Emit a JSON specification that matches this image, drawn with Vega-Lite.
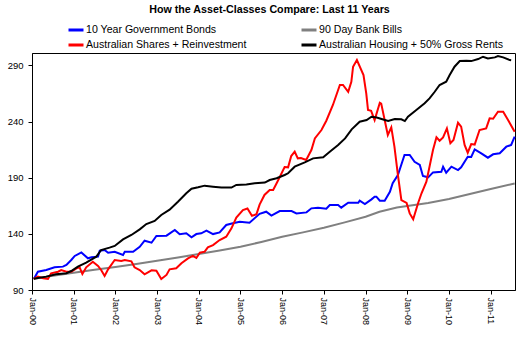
{
  "$schema": "https://vega.github.io/schema/vega-lite/v6.json",
  "width": 483,
  "height": 237,
  "autosize": {"type": "none"},
  "padding": {"left": 32, "top": 53, "right": 8, "bottom": 52},
  "background": "white",
  "title": {
    "text": "How the Asset-Classes Compare: Last 11 Years",
    "fontSize": 10.7,
    "fontWeight": "bold",
    "color": "#000000",
    "anchor": "middle",
    "frame": "group",
    "dx": -4,
    "offset": 5
  },
  "config": {
    "font": "Liberation Sans",
    "view": {"stroke": "#000000", "strokeWidth": 1},
    "axis": {"grid": false, "domainColor": "#000000", "tickColor": "#000000", "labelColor": "#000000", "title": null}
  },
  "data": {
    "values": [
      {"series": "10 Year Government Bonds", "month": 0.5, "value": 100},
      {"series": "10 Year Government Bonds", "month": 0.8, "value": 101.3},
      {"series": "10 Year Government Bonds", "month": 1.7, "value": 106.3},
      {"series": "10 Year Government Bonds", "month": 4.1, "value": 107.8},
      {"series": "10 Year Government Bonds", "month": 6.5, "value": 110.2},
      {"series": "10 Year Government Bonds", "month": 8.9, "value": 110.8},
      {"series": "10 Year Government Bonds", "month": 9.9, "value": 112.3},
      {"series": "10 Year Government Bonds", "month": 11.3, "value": 116.7},
      {"series": "10 Year Government Bonds", "month": 12.3, "value": 120.3},
      {"series": "10 Year Government Bonds", "month": 14.2, "value": 123.4},
      {"series": "10 Year Government Bonds", "month": 16.1, "value": 118.2},
      {"series": "10 Year Government Bonds", "month": 17.1, "value": 119.1},
      {"series": "10 Year Government Bonds", "month": 19.0, "value": 119.7},
      {"series": "10 Year Government Bonds", "month": 19.5, "value": 125.0},
      {"series": "10 Year Government Bonds", "month": 20.9, "value": 125.6},
      {"series": "10 Year Government Bonds", "month": 21.9, "value": 123.2},
      {"series": "10 Year Government Bonds", "month": 23.8, "value": 124.1},
      {"series": "10 Year Government Bonds", "month": 26.2, "value": 121.2},
      {"series": "10 Year Government Bonds", "month": 26.7, "value": 124.1},
      {"series": "10 Year Government Bonds", "month": 29.1, "value": 124.1},
      {"series": "10 Year Government Bonds", "month": 31.0, "value": 128.5},
      {"series": "10 Year Government Bonds", "month": 32.4, "value": 133.9},
      {"series": "10 Year Government Bonds", "month": 34.4, "value": 132.1},
      {"series": "10 Year Government Bonds", "month": 35.8, "value": 138.1},
      {"series": "10 Year Government Bonds", "month": 38.7, "value": 138.4},
      {"series": "10 Year Government Bonds", "month": 41.1, "value": 143.4},
      {"series": "10 Year Government Bonds", "month": 42.5, "value": 139.6},
      {"series": "10 Year Government Bonds", "month": 44.4, "value": 140.5},
      {"series": "10 Year Government Bonds", "month": 45.9, "value": 136.9},
      {"series": "10 Year Government Bonds", "month": 47.3, "value": 139.8},
      {"series": "10 Year Government Bonds", "month": 48.7, "value": 140.5},
      {"series": "10 Year Government Bonds", "month": 50.2, "value": 142.8},
      {"series": "10 Year Government Bonds", "month": 52.1, "value": 139.8},
      {"series": "10 Year Government Bonds", "month": 54.0, "value": 141.3},
      {"series": "10 Year Government Bonds", "month": 55.9, "value": 147.9},
      {"series": "10 Year Government Bonds", "month": 57.8, "value": 149.4},
      {"series": "10 Year Government Bonds", "month": 59.8, "value": 150.8},
      {"series": "10 Year Government Bonds", "month": 62.6, "value": 149.9},
      {"series": "10 Year Government Bonds", "month": 65.5, "value": 157.8},
      {"series": "10 Year Government Bonds", "month": 67.4, "value": 159.7},
      {"series": "10 Year Government Bonds", "month": 68.9, "value": 156.2},
      {"series": "10 Year Government Bonds", "month": 71.3, "value": 160.3},
      {"series": "10 Year Government Bonds", "month": 74.7, "value": 160.3},
      {"series": "10 Year Government Bonds", "month": 76.1, "value": 158.2},
      {"series": "10 Year Government Bonds", "month": 79.0, "value": 159.1},
      {"series": "10 Year Government Bonds", "month": 80.4, "value": 162.7},
      {"series": "10 Year Government Bonds", "month": 82.3, "value": 163.3},
      {"series": "10 Year Government Bonds", "month": 84.7, "value": 162.4},
      {"series": "10 Year Government Bonds", "month": 85.7, "value": 165.7},
      {"series": "10 Year Government Bonds", "month": 88.1, "value": 165.7},
      {"series": "10 Year Government Bonds", "month": 89.0, "value": 163.3},
      {"series": "10 Year Government Bonds", "month": 91.0, "value": 167.7},
      {"series": "10 Year Government Bonds", "month": 93.9, "value": 167.7},
      {"series": "10 Year Government Bonds", "month": 94.3, "value": 169.5},
      {"series": "10 Year Government Bonds", "month": 95.8, "value": 166.5},
      {"series": "10 Year Government Bonds", "month": 97.7, "value": 170.7},
      {"series": "10 Year Government Bonds", "month": 98.6, "value": 173.1},
      {"series": "10 Year Government Bonds", "month": 99.1, "value": 173.1},
      {"series": "10 Year Government Bonds", "month": 100.1, "value": 169.5},
      {"series": "10 Year Government Bonds", "month": 101.5, "value": 169.5},
      {"series": "10 Year Government Bonds", "month": 103.0, "value": 177.5},
      {"series": "10 Year Government Bonds", "month": 103.8, "value": 185.0},
      {"series": "10 Year Government Bonds", "month": 105.3, "value": 192.4},
      {"series": "10 Year Government Bonds", "month": 107.2, "value": 210.2},
      {"series": "10 Year Government Bonds", "month": 108.7, "value": 210.2},
      {"series": "10 Year Government Bonds", "month": 110.1, "value": 204.2},
      {"series": "10 Year Government Bonds", "month": 111.6, "value": 201.3},
      {"series": "10 Year Government Bonds", "month": 112.5, "value": 191.5},
      {"series": "10 Year Government Bonds", "month": 114.0, "value": 190.3},
      {"series": "10 Year Government Bonds", "month": 115.4, "value": 194.7},
      {"series": "10 Year Government Bonds", "month": 117.8, "value": 195.3},
      {"series": "10 Year Government Bonds", "month": 118.3, "value": 199.8},
      {"series": "10 Year Government Bonds", "month": 119.2, "value": 194.4},
      {"series": "10 Year Government Bonds", "month": 120.7, "value": 199.8},
      {"series": "10 Year Government Bonds", "month": 122.6, "value": 196.8},
      {"series": "10 Year Government Bonds", "month": 123.5, "value": 199.2},
      {"series": "10 Year Government Bonds", "month": 125.4, "value": 208.7},
      {"series": "10 Year Government Bonds", "month": 126.4, "value": 208.5},
      {"series": "10 Year Government Bonds", "month": 127.4, "value": 215.2},
      {"series": "10 Year Government Bonds", "month": 129.3, "value": 211.7},
      {"series": "10 Year Government Bonds", "month": 131.2, "value": 207.8},
      {"series": "10 Year Government Bonds", "month": 132.7, "value": 210.8},
      {"series": "10 Year Government Bonds", "month": 134.6, "value": 211.7},
      {"series": "10 Year Government Bonds", "month": 136.5, "value": 217.6},
      {"series": "10 Year Government Bonds", "month": 137.9, "value": 219.1},
      {"series": "10 Year Government Bonds", "month": 138.9, "value": 226.5},

      {"series": "90 Day Bank Bills", "month": 0.5, "value": 100},
      {"series": "90 Day Bank Bills", "month": 6, "value": 102.6},
      {"series": "90 Day Bank Bills", "month": 12, "value": 105.4},
      {"series": "90 Day Bank Bills", "month": 18, "value": 108.0},
      {"series": "90 Day Bank Bills", "month": 24, "value": 110.5},
      {"series": "90 Day Bank Bills", "month": 30, "value": 113.2},
      {"series": "90 Day Bank Bills", "month": 36, "value": 116.0},
      {"series": "90 Day Bank Bills", "month": 42, "value": 119.0},
      {"series": "90 Day Bank Bills", "month": 48, "value": 122.0},
      {"series": "90 Day Bank Bills", "month": 54, "value": 125.2},
      {"series": "90 Day Bank Bills", "month": 60, "value": 128.5},
      {"series": "90 Day Bank Bills", "month": 66, "value": 132.8},
      {"series": "90 Day Bank Bills", "month": 72, "value": 137.4},
      {"series": "90 Day Bank Bills", "month": 78, "value": 141.3},
      {"series": "90 Day Bank Bills", "month": 84, "value": 145.5},
      {"series": "90 Day Bank Bills", "month": 90, "value": 150.2},
      {"series": "90 Day Bank Bills", "month": 96, "value": 155.2},
      {"series": "90 Day Bank Bills", "month": 100, "value": 159.7},
      {"series": "90 Day Bank Bills", "month": 105, "value": 163.4},
      {"series": "90 Day Bank Bills", "month": 108, "value": 164.8},
      {"series": "90 Day Bank Bills", "month": 114, "value": 167.5},
      {"series": "90 Day Bank Bills", "month": 120, "value": 171.0},
      {"series": "90 Day Bank Bills", "month": 126, "value": 175.5},
      {"series": "90 Day Bank Bills", "month": 132, "value": 180.0},
      {"series": "90 Day Bank Bills", "month": 138.9, "value": 184.8},

      {"series": "Australian Shares + Reinvestment", "month": 0.5, "value": 100},
      {"series": "Australian Shares + Reinvestment", "month": 1.7, "value": 101.9},
      {"series": "Australian Shares + Reinvestment", "month": 3.2, "value": 100.4},
      {"series": "Australian Shares + Reinvestment", "month": 4.6, "value": 99.8},
      {"series": "Australian Shares + Reinvestment", "month": 5.5, "value": 104.9},
      {"series": "Australian Shares + Reinvestment", "month": 7.5, "value": 106.3},
      {"series": "Australian Shares + Reinvestment", "month": 8.4, "value": 107.8},
      {"series": "Australian Shares + Reinvestment", "month": 9.9, "value": 106.3},
      {"series": "Australian Shares + Reinvestment", "month": 11.3, "value": 106.3},
      {"series": "Australian Shares + Reinvestment", "month": 12.8, "value": 109.3},
      {"series": "Australian Shares + Reinvestment", "month": 13.7, "value": 110.2},
      {"series": "Australian Shares + Reinvestment", "month": 14.5, "value": 104.2},
      {"series": "Australian Shares + Reinvestment", "month": 15.6, "value": 110.2},
      {"series": "Australian Shares + Reinvestment", "month": 17.5, "value": 115.2},
      {"series": "Australian Shares + Reinvestment", "month": 19.0, "value": 111.4},
      {"series": "Australian Shares + Reinvestment", "month": 19.9, "value": 107.8},
      {"series": "Australian Shares + Reinvestment", "month": 20.9, "value": 102.5},
      {"series": "Australian Shares + Reinvestment", "month": 21.9, "value": 108.4},
      {"series": "Australian Shares + Reinvestment", "month": 23.8, "value": 116.7},
      {"series": "Australian Shares + Reinvestment", "month": 25.7, "value": 115.8},
      {"series": "Australian Shares + Reinvestment", "month": 26.7, "value": 116.7},
      {"series": "Australian Shares + Reinvestment", "month": 28.6, "value": 115.5},
      {"series": "Australian Shares + Reinvestment", "month": 29.5, "value": 110.2},
      {"series": "Australian Shares + Reinvestment", "month": 31.0, "value": 107.8},
      {"series": "Australian Shares + Reinvestment", "month": 32.4, "value": 104.0},
      {"series": "Australian Shares + Reinvestment", "month": 34.4, "value": 107.5},
      {"series": "Australian Shares + Reinvestment", "month": 35.8, "value": 107.2},
      {"series": "Australian Shares + Reinvestment", "month": 37.2, "value": 99.8},
      {"series": "Australian Shares + Reinvestment", "month": 38.7, "value": 103.4},
      {"series": "Australian Shares + Reinvestment", "month": 39.6, "value": 108.4},
      {"series": "Australian Shares + Reinvestment", "month": 41.5, "value": 109.3},
      {"series": "Australian Shares + Reinvestment", "month": 43.0, "value": 113.8},
      {"series": "Australian Shares + Reinvestment", "month": 44.9, "value": 118.2},
      {"series": "Australian Shares + Reinvestment", "month": 46.3, "value": 120.3},
      {"series": "Australian Shares + Reinvestment", "month": 47.3, "value": 118.5},
      {"series": "Australian Shares + Reinvestment", "month": 48.3, "value": 123.2},
      {"series": "Australian Shares + Reinvestment", "month": 49.7, "value": 124.1},
      {"series": "Australian Shares + Reinvestment", "month": 50.6, "value": 128.0},
      {"series": "Australian Shares + Reinvestment", "month": 52.1, "value": 130.0},
      {"series": "Australian Shares + Reinvestment", "month": 54.0, "value": 134.5},
      {"series": "Australian Shares + Reinvestment", "month": 55.9, "value": 137.4},
      {"series": "Australian Shares + Reinvestment", "month": 57.4, "value": 144.9},
      {"series": "Australian Shares + Reinvestment", "month": 58.8, "value": 154.5},
      {"series": "Australian Shares + Reinvestment", "month": 60.7, "value": 161.2},
      {"series": "Australian Shares + Reinvestment", "month": 62.0, "value": 162.5},
      {"series": "Australian Shares + Reinvestment", "month": 63.3, "value": 156.0},
      {"series": "Australian Shares + Reinvestment", "month": 64.6, "value": 157.5},
      {"series": "Australian Shares + Reinvestment", "month": 65.5, "value": 166.0},
      {"series": "Australian Shares + Reinvestment", "month": 66.9, "value": 174.6},
      {"series": "Australian Shares + Reinvestment", "month": 68.4, "value": 179.0},
      {"series": "Australian Shares + Reinvestment", "month": 69.4, "value": 179.0},
      {"series": "Australian Shares + Reinvestment", "month": 70.4, "value": 185.0},
      {"series": "Australian Shares + Reinvestment", "month": 71.3, "value": 190.6},
      {"series": "Australian Shares + Reinvestment", "month": 72.7, "value": 199.5},
      {"series": "Australian Shares + Reinvestment", "month": 73.7, "value": 199.2},
      {"series": "Australian Shares + Reinvestment", "month": 74.6, "value": 209.3},
      {"series": "Australian Shares + Reinvestment", "month": 75.6, "value": 213.1},
      {"series": "Australian Shares + Reinvestment", "month": 76.5, "value": 207.2},
      {"series": "Australian Shares + Reinvestment", "month": 77.4, "value": 207.5},
      {"series": "Australian Shares + Reinvestment", "month": 78.9, "value": 205.7},
      {"series": "Australian Shares + Reinvestment", "month": 80.4, "value": 214.6},
      {"series": "Australian Shares + Reinvestment", "month": 81.4, "value": 225.0},
      {"series": "Australian Shares + Reinvestment", "month": 83.3, "value": 232.4},
      {"series": "Australian Shares + Reinvestment", "month": 84.7, "value": 240.7},
      {"series": "Australian Shares + Reinvestment", "month": 86.6, "value": 254.7},
      {"series": "Australian Shares + Reinvestment", "month": 88.6, "value": 272.5},
      {"series": "Australian Shares + Reinvestment", "month": 89.5, "value": 272.5},
      {"series": "Australian Shares + Reinvestment", "month": 91.0, "value": 266.5},
      {"series": "Australian Shares + Reinvestment", "month": 91.9, "value": 275.4},
      {"series": "Australian Shares + Reinvestment", "month": 92.4, "value": 288.8},
      {"series": "Australian Shares + Reinvestment", "month": 93.5, "value": 294.7},
      {"series": "Australian Shares + Reinvestment", "month": 95.4, "value": 281.4},
      {"series": "Australian Shares + Reinvestment", "month": 96.2, "value": 264.9},
      {"series": "Australian Shares + Reinvestment", "month": 96.7, "value": 250.2},
      {"series": "Australian Shares + Reinvestment", "month": 97.6, "value": 249.5},
      {"series": "Australian Shares + Reinvestment", "month": 98.6, "value": 241.3},
      {"series": "Australian Shares + Reinvestment", "month": 100.1, "value": 256.7},
      {"series": "Australian Shares + Reinvestment", "month": 100.5, "value": 256.0},
      {"series": "Australian Shares + Reinvestment", "month": 102.4, "value": 228.0},
      {"series": "Australian Shares + Reinvestment", "month": 103.4, "value": 234.8},
      {"series": "Australian Shares + Reinvestment", "month": 104.3, "value": 217.6},
      {"series": "Australian Shares + Reinvestment", "month": 105.3, "value": 192.4},
      {"series": "Australian Shares + Reinvestment", "month": 106.3, "value": 170.1},
      {"series": "Australian Shares + Reinvestment", "month": 107.8, "value": 167.5},
      {"series": "Australian Shares + Reinvestment", "month": 108.7, "value": 158.2},
      {"series": "Australian Shares + Reinvestment", "month": 109.7, "value": 152.9},
      {"series": "Australian Shares + Reinvestment", "month": 111.1, "value": 167.2},
      {"series": "Australian Shares + Reinvestment", "month": 112.1, "value": 176.1},
      {"series": "Australian Shares + Reinvestment", "month": 113.5, "value": 186.4},
      {"series": "Australian Shares + Reinvestment", "month": 114.5, "value": 201.3},
      {"series": "Australian Shares + Reinvestment", "month": 115.4, "value": 214.6},
      {"series": "Australian Shares + Reinvestment", "month": 116.4, "value": 225.9},
      {"series": "Australian Shares + Reinvestment", "month": 117.3, "value": 222.9},
      {"series": "Australian Shares + Reinvestment", "month": 118.3, "value": 225.9},
      {"series": "Australian Shares + Reinvestment", "month": 119.4, "value": 233.9},
      {"series": "Australian Shares + Reinvestment", "month": 120.4, "value": 220.6},
      {"series": "Australian Shares + Reinvestment", "month": 121.3, "value": 223.5},
      {"series": "Australian Shares + Reinvestment", "month": 122.6, "value": 238.9},
      {"series": "Australian Shares + Reinvestment", "month": 123.5, "value": 235.4},
      {"series": "Australian Shares + Reinvestment", "month": 124.5, "value": 219.1},
      {"series": "Australian Shares + Reinvestment", "month": 125.4, "value": 212.2},
      {"series": "Australian Shares + Reinvestment", "month": 126.4, "value": 219.9},
      {"series": "Australian Shares + Reinvestment", "month": 127.4, "value": 219.5},
      {"series": "Australian Shares + Reinvestment", "month": 128.8, "value": 232.4},
      {"series": "Australian Shares + Reinvestment", "month": 130.7, "value": 233.9},
      {"series": "Australian Shares + Reinvestment", "month": 131.7, "value": 242.8},
      {"series": "Australian Shares + Reinvestment", "month": 132.7, "value": 242.5},
      {"series": "Australian Shares + Reinvestment", "month": 134.1, "value": 248.7},
      {"series": "Australian Shares + Reinvestment", "month": 135.6, "value": 248.7},
      {"series": "Australian Shares + Reinvestment", "month": 137.0, "value": 241.3},
      {"series": "Australian Shares + Reinvestment", "month": 138.9, "value": 230.8},

      {"series": "Australian Housing + 50% Gross Rents", "month": 0.5, "value": 100},
      {"series": "Australian Housing + 50% Gross Rents", "month": 4.1, "value": 101.9},
      {"series": "Australian Housing + 50% Gross Rents", "month": 6.9, "value": 104.0},
      {"series": "Australian Housing + 50% Gross Rents", "month": 9.9, "value": 104.9},
      {"series": "Australian Housing + 50% Gross Rents", "month": 11.3, "value": 106.9},
      {"series": "Australian Housing + 50% Gross Rents", "month": 13.2, "value": 110.8},
      {"series": "Australian Housing + 50% Gross Rents", "month": 15.6, "value": 114.3},
      {"series": "Australian Housing + 50% Gross Rents", "month": 18.5, "value": 119.7},
      {"series": "Australian Housing + 50% Gross Rents", "month": 19.9, "value": 125.6},
      {"series": "Australian Housing + 50% Gross Rents", "month": 22.3, "value": 127.7},
      {"series": "Australian Housing + 50% Gross Rents", "month": 23.8, "value": 129.2},
      {"series": "Australian Housing + 50% Gross Rents", "month": 26.2, "value": 135.1},
      {"series": "Australian Housing + 50% Gross Rents", "month": 28.6, "value": 139.0},
      {"series": "Australian Housing + 50% Gross Rents", "month": 31.0, "value": 144.0},
      {"series": "Australian Housing + 50% Gross Rents", "month": 32.9, "value": 148.7},
      {"series": "Australian Housing + 50% Gross Rents", "month": 35.3, "value": 151.5},
      {"series": "Australian Housing + 50% Gross Rents", "month": 37.2, "value": 156.8},
      {"series": "Australian Housing + 50% Gross Rents", "month": 39.6, "value": 161.5},
      {"series": "Australian Housing + 50% Gross Rents", "month": 42.0, "value": 168.6},
      {"series": "Australian Housing + 50% Gross Rents", "month": 44.4, "value": 176.1},
      {"series": "Australian Housing + 50% Gross Rents", "month": 45.9, "value": 180.2},
      {"series": "Australian Housing + 50% Gross Rents", "month": 47.8, "value": 181.4},
      {"series": "Australian Housing + 50% Gross Rents", "month": 49.7, "value": 182.9},
      {"series": "Australian Housing + 50% Gross Rents", "month": 52.1, "value": 182.0},
      {"series": "Australian Housing + 50% Gross Rents", "month": 54.5, "value": 181.2},
      {"series": "Australian Housing + 50% Gross Rents", "month": 57.4, "value": 181.2},
      {"series": "Australian Housing + 50% Gross Rents", "month": 58.8, "value": 183.5},
      {"series": "Australian Housing + 50% Gross Rents", "month": 61.7, "value": 184.0},
      {"series": "Australian Housing + 50% Gross Rents", "month": 64.1, "value": 185.0},
      {"series": "Australian Housing + 50% Gross Rents", "month": 67.0, "value": 185.6},
      {"series": "Australian Housing + 50% Gross Rents", "month": 68.4, "value": 187.9},
      {"series": "Australian Housing + 50% Gross Rents", "month": 70.4, "value": 189.5},
      {"series": "Australian Housing + 50% Gross Rents", "month": 72.7, "value": 192.4},
      {"series": "Australian Housing + 50% Gross Rents", "month": 73.7, "value": 193.9},
      {"series": "Australian Housing + 50% Gross Rents", "month": 75.6, "value": 199.8},
      {"series": "Australian Housing + 50% Gross Rents", "month": 78.5, "value": 203.6},
      {"series": "Australian Housing + 50% Gross Rents", "month": 80.9, "value": 207.2},
      {"series": "Australian Housing + 50% Gross Rents", "month": 83.8, "value": 208.1},
      {"series": "Australian Housing + 50% Gross Rents", "month": 85.7, "value": 213.1},
      {"series": "Australian Housing + 50% Gross Rents", "month": 88.1, "value": 219.1},
      {"series": "Australian Housing + 50% Gross Rents", "month": 90.1, "value": 225.0},
      {"series": "Australian Housing + 50% Gross Rents", "month": 92.0, "value": 233.0},
      {"series": "Australian Housing + 50% Gross Rents", "month": 94.3, "value": 239.8},
      {"series": "Australian Housing + 50% Gross Rents", "month": 96.3, "value": 241.3},
      {"series": "Australian Housing + 50% Gross Rents", "month": 97.7, "value": 244.3},
      {"series": "Australian Housing + 50% Gross Rents", "month": 99.2, "value": 243.5},
      {"series": "Australian Housing + 50% Gross Rents", "month": 100.6, "value": 242.2},
      {"series": "Australian Housing + 50% Gross Rents", "month": 102.5, "value": 240.4},
      {"series": "Australian Housing + 50% Gross Rents", "month": 104.4, "value": 242.2},
      {"series": "Australian Housing + 50% Gross Rents", "month": 106.3, "value": 242.0},
      {"series": "Australian Housing + 50% Gross Rents", "month": 107.3, "value": 240.4},
      {"series": "Australian Housing + 50% Gross Rents", "month": 108.2, "value": 244.3},
      {"series": "Australian Housing + 50% Gross Rents", "month": 110.6, "value": 250.2},
      {"series": "Australian Housing + 50% Gross Rents", "month": 113.0, "value": 256.2},
      {"series": "Australian Housing + 50% Gross Rents", "month": 114.4, "value": 260.6},
      {"series": "Australian Housing + 50% Gross Rents", "month": 115.9, "value": 266.5},
      {"series": "Australian Housing + 50% Gross Rents", "month": 117.3, "value": 272.5},
      {"series": "Australian Housing + 50% Gross Rents", "month": 119.2, "value": 275.4},
      {"series": "Australian Housing + 50% Gross Rents", "month": 120.2, "value": 281.4},
      {"series": "Australian Housing + 50% Gross Rents", "month": 121.6, "value": 288.8},
      {"series": "Australian Housing + 50% Gross Rents", "month": 123.1, "value": 293.8},
      {"series": "Australian Housing + 50% Gross Rents", "month": 125.0, "value": 294.1},
      {"series": "Australian Housing + 50% Gross Rents", "month": 126.4, "value": 293.8},
      {"series": "Australian Housing + 50% Gross Rents", "month": 128.4, "value": 295.6},
      {"series": "Australian Housing + 50% Gross Rents", "month": 129.8, "value": 297.7},
      {"series": "Australian Housing + 50% Gross Rents", "month": 131.2, "value": 296.2},
      {"series": "Australian Housing + 50% Gross Rents", "month": 133.2, "value": 297.1},
      {"series": "Australian Housing + 50% Gross Rents", "month": 134.1, "value": 298.3},
      {"series": "Australian Housing + 50% Gross Rents", "month": 135.6, "value": 297.1},
      {"series": "Australian Housing + 50% Gross Rents", "month": 137.5, "value": 294.7},
      {"series": "Australian Housing + 50% Gross Rents", "month": 137.9, "value": 294.5}
    ]
  },
  "mark": {"type": "line", "strokeWidth": 2, "interpolate": "linear"},
  "encoding": {
    "x": {
      "field": "month",
      "type": "quantitative",
      "scale": {"domain": [0, 139], "nice": false, "zero": false},
      "axis": {
        "values": [0, 12, 24, 36, 48, 60, 72, 84, 96, 108, 120, 132],
        "labelExpr": "'Jan-' + (datum.value < 120 ? '0' : '') + (datum.value / 12)",
        "labelAngle": 90,
        "labelAlign": "left",
        "labelBaseline": "middle",
        "labelFontSize": 9,
        "labelPadding": 3,
        "tickSize": 4,
        "labelFlush": false,
        "labelOverlap": false
      }
    },
    "y": {
      "field": "value",
      "type": "quantitative",
      "scale": {"domain": [90, 301], "nice": false, "zero": false},
      "axis": {
        "values": [90, 140, 190, 240, 290],
        "labelFontSize": 9.5,
        "labelPadding": 5,
        "tickSize": 4,
        "labelFlush": false
      }
    },
    "color": {
      "field": "series",
      "type": "nominal",
      "scale": {
        "domain": ["10 Year Government Bonds", "90 Day Bank Bills", "Australian Shares + Reinvestment", "Australian Housing + 50% Gross Rents"],
        "range": ["#0000FF", "#808080", "#FF0000", "#000000"]
      },
      "legend": {
        "title": null,
        "orient": "none",
        "legendX": 35,
        "legendY": -32,
        "direction": "horizontal",
        "columns": 2,
        "columnPadding": 48,
        "rowPadding": 0,
        "symbolType": "stroke",
        "symbolSize": 225,
        "symbolStrokeWidth": 3,
        "labelOffset": 1,
        "labelFontSize": 10.6,
        "labelColor": "#000000",
        "labelLimit": 300
      }
    }
  }
}
